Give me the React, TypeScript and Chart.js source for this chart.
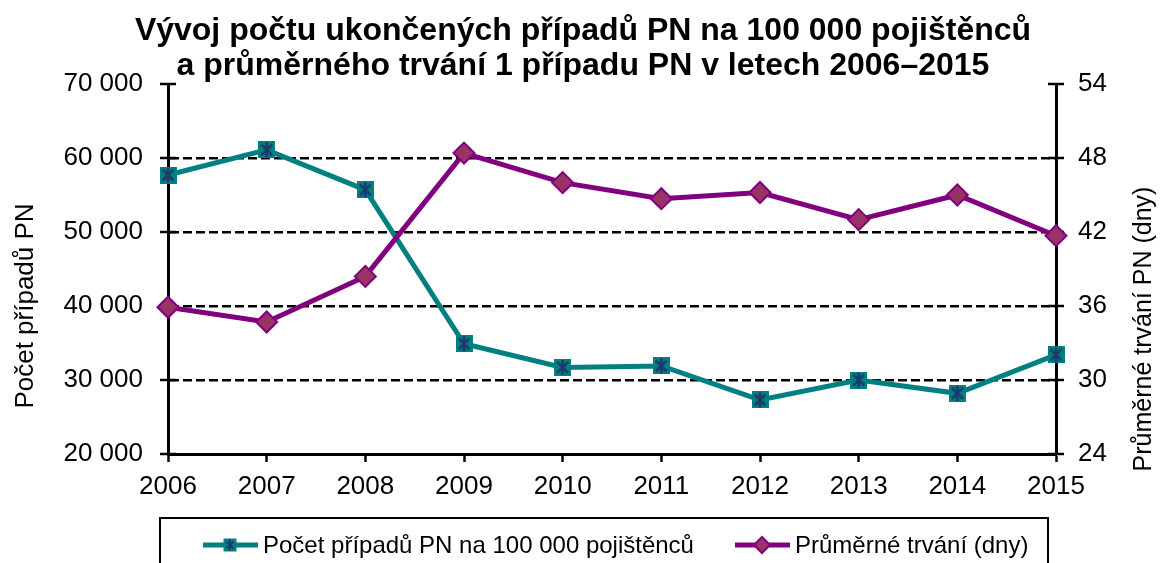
import React, { useEffect, useRef } from "react";
import { Chart, registerables } from "chart.js";

Chart.register(...registerables);

const years = ["2006", "2007", "2008", "2009", "2010", "2011", "2012", "2013", "2014", "2015"];
const casesPer100k = [57700, 61100, 55700, 34900, 31700, 31900, 27300, 30000, 28200, 33400];
const avgDuration = [35.9, 34.7, 38.4, 48.4, 46.0, 44.7, 45.2, 43.0, 45.0, 41.7];

const titleLines = [
  "Vývoj počtu ukončených případů PN na 100 000 pojištěnců",
  "a průměrného trvání 1 případu PN v letech 2006–2015",
];
const leftAxisTitle = "Počet případů PN";
const rightAxisTitle = "Průměrné trvání PN (dny)";
const legendLabels = ["Počet případů PN na 100 000 pojištěnců", "Průměrné trvání (dny)"];

const TEAL = "#008080";
const NAVY = "#1c3a6e";
const PURPLE = "#800080";
const PLUM = "#993366";
const FONT = "'Liberation Sans', Arial, sans-serif";

const W = 1161;
const H = 563;

function drawStarSquare(g: CanvasRenderingContext2D, cx: number, cy: number, size: number, lw: number) {
  const h = size / 2;
  g.fillStyle = TEAL;
  g.fillRect(cx - h, cy - h, size, size);
  g.strokeStyle = NAVY;
  g.lineWidth = lw;
  const m = 3;
  g.beginPath();
  g.moveTo(cx - h + m, cy - h + m);
  g.lineTo(cx + h - m, cy + h - m);
  g.moveTo(cx + h - m, cy - h + m);
  g.lineTo(cx - h + m, cy + h - m);
  g.moveTo(cx, cy - h + 1);
  g.lineTo(cx, cy + h - 1);
  g.stroke();
}

function makeStarSquare(size: number) {
  const c = document.createElement("canvas");
  c.width = size;
  c.height = size;
  const g = c.getContext("2d")!;
  drawStarSquare(g, size / 2, size / 2, size, 2.5);
  return c;
}

function drawDiamond(g: CanvasRenderingContext2D, cx: number, cy: number, r: number) {
  g.beginPath();
  g.moveTo(cx, cy - r);
  g.lineTo(cx + r, cy);
  g.lineTo(cx, cy + r);
  g.lineTo(cx - r, cy);
  g.closePath();
  g.fillStyle = PLUM;
  g.fill();
  g.strokeStyle = PURPLE;
  g.lineWidth = 2;
  g.stroke();
}

const fmt = (v: number) => String(v).replace(/\B(?=(\d{3})+(?!\d))/g, " ");

const crossTicksPlugin = {
  id: "crossTicks",
  beforeDatasetsDraw(chart: any) {
    const ctx = chart.ctx;
    const { left, right } = chart.chartArea;
    const y = chart.scales.y;
    const y1 = chart.scales.y1;
    ctx.save();
    ctx.strokeStyle = "#000";
    ctx.lineWidth = 2.5;
    y.ticks.forEach((t: any) => {
      const py = Math.round(y.getPixelForValue(t.value));
      ctx.beginPath();
      ctx.moveTo(left - 8, py);
      ctx.lineTo(left + 8, py);
      ctx.stroke();
    });
    y1.ticks.forEach((t: any) => {
      const py = Math.round(y1.getPixelForValue(t.value));
      ctx.beginPath();
      ctx.moveTo(right - 8, py);
      ctx.lineTo(right + 8, py);
      ctx.stroke();
    });
    ctx.restore();
  },
};

const decorPlugin = {
  id: "decor",
  afterDraw(chart: any) {
    const ctx = chart.ctx;
    ctx.save();
    ctx.fillStyle = "#000";
    ctx.textAlign = "center";
    ctx.textBaseline = "alphabetic";
    ctx.font = `bold 32px ${FONT}`;
    ctx.fillText(titleLines[0], 583, 40);
    ctx.fillText(titleLines[1], 583, 75);

    ctx.textBaseline = "middle";
    ctx.font = `26px ${FONT}`;
    ctx.save();
    ctx.translate(26, 306);
    ctx.rotate(-Math.PI / 2);
    ctx.fillText(leftAxisTitle, 0, 0);
    ctx.restore();

    ctx.font = `25px ${FONT}`;
    ctx.save();
    ctx.translate(1144, 329);
    ctx.rotate(-Math.PI / 2);
    ctx.fillText(rightAxisTitle, 0, 0);
    ctx.restore();

    // legend
    ctx.strokeStyle = "#000";
    ctx.lineWidth = 2;
    ctx.strokeRect(160, 518, 888, 80);
    const ly = 545;
    ctx.lineWidth = 5;
    ctx.strokeStyle = TEAL;
    ctx.beginPath();
    ctx.moveTo(203, ly);
    ctx.lineTo(258, ly);
    ctx.stroke();
    drawStarSquare(ctx, 230, ly, 13, 2);
    ctx.lineWidth = 5;
    ctx.strokeStyle = PURPLE;
    ctx.beginPath();
    ctx.moveTo(735, ly);
    ctx.lineTo(790, ly);
    ctx.stroke();
    drawDiamond(ctx, 762, ly, 8);

    ctx.fillStyle = "#000";
    ctx.textAlign = "left";
    ctx.textBaseline = "middle";
    ctx.font = `24px ${FONT}`;
    ctx.fillText(legendLabels[0], 263, ly + 1);
    ctx.fillText(legendLabels[1], 795, ly + 1);
    ctx.restore();
  },
};

export default function App() {
  const ref = useRef<HTMLCanvasElement | null>(null);

  useEffect(() => {
    if (!ref.current) return;
    const starImg = makeStarSquare(17);
    const chart = new Chart(ref.current, {
      type: "line",
      data: {
        labels: years,
        datasets: [
          {
            label: legendLabels[0],
            data: casesPer100k,
            yAxisID: "y",
            borderColor: TEAL,
            backgroundColor: TEAL,
            borderWidth: 5,
            pointStyle: starImg as any,
            pointRadius: 9,
            tension: 0,
            clip: false as any,
            order: 1,
          },
          {
            label: legendLabels[1],
            data: avgDuration,
            yAxisID: "y1",
            borderColor: PURPLE,
            backgroundColor: PLUM,
            pointBackgroundColor: PLUM,
            pointBorderColor: PURPLE,
            pointBorderWidth: 2,
            borderWidth: 5,
            pointStyle: "rectRot",
            pointRadius: 10.5,
            tension: 0,
            clip: false as any,
            order: 0,
          },
        ],
      },
      options: {
        responsive: false,
        animation: false,
        devicePixelRatio: 1,
        layout: { padding: { top: 84, left: 0, right: 0, bottom: 0 } },
        plugins: {
          legend: { display: false },
          title: { display: false },
          tooltip: { enabled: false },
        },
        scales: {
          x: {
            type: "category",
            offset: false,
            grid: {
              drawOnChartArea: false,
              drawTicks: true,
              tickLength: 8,
              tickWidth: 2.5,
              tickColor: "#000",
            },
            border: { display: true, color: "#000", width: 3 },
            ticks: {
              color: "#000",
              font: { family: FONT, size: 26 },
              padding: 9,
              maxRotation: 0,
              autoSkip: false,
            },
            afterFit: (s: any) => {
              s.height = H - 454;
            },
          },
          y: {
            position: "left",
            min: 20000,
            max: 70000,
            grid: {
              drawTicks: false,
              lineWidth: 2.5,
              color: (c: any) =>
                c.tick && c.tick.value > 20000 && c.tick.value < 70000 ? "#000" : "rgba(0,0,0,0)",
            },
            border: { display: true, color: "#000", width: 3, dash: [9, 4] },
            ticks: {
              stepSize: 10000,
              color: "#000",
              font: { family: FONT, size: 26 },
              padding: 25,
              callback: (v: any) => fmt(Number(v)),
            },
            afterFit: (s: any) => {
              s.width = 168;
            },
          },
          y1: {
            position: "right",
            min: 24,
            max: 54,
            grid: { drawOnChartArea: false, drawTicks: false },
            border: { display: true, color: "#000", width: 3 },
            ticks: {
              stepSize: 6,
              color: "#000",
              font: { family: FONT, size: 26 },
              padding: 22,
            },
            afterFit: (s: any) => {
              s.width = W - 1056;
            },
          },
        },
      },
      plugins: [crossTicksPlugin, decorPlugin],
    });
    return () => chart.destroy();
  }, []);

  return (
    <div style={{ position: "fixed", left: 0, top: 0, width: W, height: H, background: "#fff" }}>
      <canvas ref={ref} width={W} height={H} style={{ width: W, height: H, display: "block" }} />
    </div>
  );
}
